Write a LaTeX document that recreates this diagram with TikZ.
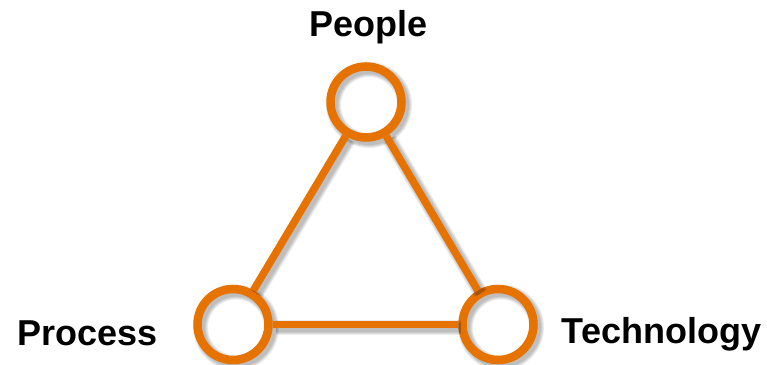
\documentclass[tikz,border=0pt]{standalone}
\usepackage{fontspec}
\setmainfont{Liberation Sans}
\definecolor{ringorange}{RGB}{230,114,0}
\begin{document}
\begin{tikzpicture}[x=1pt,y=1pt,
  ring/.style={circle,draw=ringorange,line width=8.5pt,minimum size=71pt,inner sep=0pt},
  ringshadow/.style={circle,draw=black,draw opacity=0.07,minimum size=71pt,inner sep=0pt},
  link/.style={draw=ringorange,line width=7.5pt},
  linkshadow/.style={draw=black,draw opacity=0.07},
  lbl/.style={font=\bfseries\fontsize{36}{40}\selectfont,text=black,inner sep=0pt,anchor=base}]
\useasboundingbox (0,0) rectangle (767,364);
% shadows of rings
\foreach \w in {9,11,13,15} {
  \node[ringshadow,line width=\w pt] at (369,259) {};
  \node[ringshadow,line width=\w pt] at (236,36.5) {};
  \node[ringshadow,line width=\w pt] at (501,36.5) {};
}
\node[ring] (people) at (366,262) {};
\node[ring] (process) at (233,39.5) {};
\node[ring] (tech) at (498,39.5) {};
% shadows of links
\foreach \w in {9,11,13,15} {
  \begin{scope}[transform canvas={shift={(3pt,-3pt)}}]
    \draw[linkshadow,line width=\w pt] (people) -- (process);
    \draw[linkshadow,line width=\w pt] (people) -- (tech);
    \draw[linkshadow,line width=\w pt] (process) -- (tech);
  \end{scope}
}
\draw[link] (people) -- (process);
\draw[link] (people) -- (tech);
\draw[link] (process) -- (tech);
\node[lbl] (lp) at (368.5,327) {People};
\node[lbl] (lpr) at (87.5,19) {Process};
\node[lbl] (lt) at (661.5,21) {Technology};
\end{tikzpicture}
\end{document}
